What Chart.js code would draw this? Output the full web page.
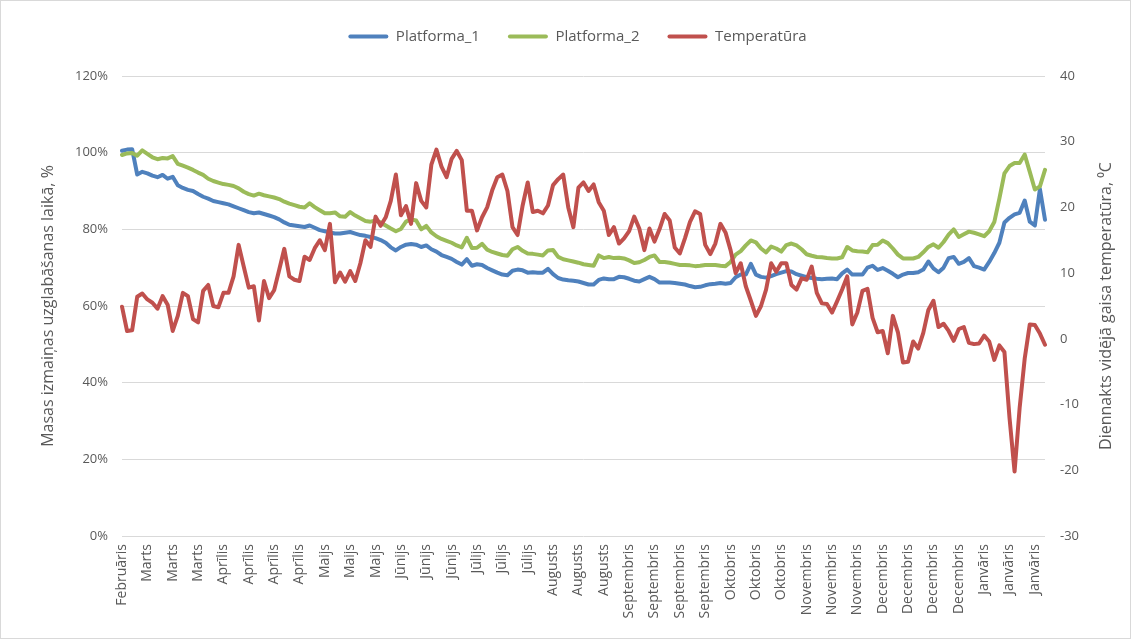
<!DOCTYPE html>
<html>
<head>
<meta charset="utf-8">
<title>Masas izmaiņas</title>
<script src="https://cdn.jsdelivr.net/npm/chart.js@4.4.1/dist/chart.umd.min.js"></script>
<style>
    html, body { margin: 0; padding: 0; background: #fff; }
    #wrap { width: 1131px; height: 639px; box-sizing: border-box; border: 1px solid #d9d9d9; }
    canvas { display: block; }
</style>
</head>
<body>
<div id="wrap"><canvas id="massChart" width="1129" height="637"></canvas></div>
<script>
// tick labels, one every 5 points
const monthTicks = ['Februāris', 'Marts', 'Marts', 'Marts', 'Aprīlis', 'Aprīlis', 'Aprīlis', 'Aprīlis',
    'Maijs', 'Maijs', 'Maijs', 'Jūnijs', 'Jūnijs', 'Jūnijs', 'Jūlijs', 'Jūlijs', 'Jūlijs',
    'Augusts', 'Augusts', 'Augusts', 'Septembris', 'Septembris', 'Septembris', 'Septembris',
    'Oktobris', 'Oktobris', 'Oktobris', 'Novembris', 'Novembris', 'Novembris',
    'Decembris', 'Decembris', 'Decembris', 'Decembris', 'Janvāris', 'Janvāris', 'Janvāris'];
const tickEvery = 5;

// mass change, % (left axis)
const platforma1 = [
    100.5, 100.8, 100.9, 94.3, 95.0, 94.6, 94.0, 93.6, 94.2, 93.2,
    93.7, 91.5, 90.8, 90.3, 90.0, 89.2, 88.5, 88.0, 87.4, 87.1,
    86.8, 86.5, 86.0, 85.5, 85.0, 84.5, 84.2, 84.4, 84.0, 83.6,
    83.2, 82.6, 81.8, 81.2, 81.0, 80.8, 80.6, 81.0, 80.4, 79.8,
    79.5, 79.2, 78.9, 78.9, 79.1, 79.3, 78.9, 78.5, 78.3, 78.0,
    77.7, 77.2, 76.5, 75.3, 74.5, 75.4, 76.0, 76.2, 76.0, 75.4,
    75.8, 74.8, 74.2, 73.3, 72.8, 72.3, 71.5, 70.8, 72.2, 70.5,
    70.9, 70.7, 69.9, 69.3, 68.7, 68.2, 68.0, 69.2, 69.5, 69.3,
    68.7, 68.8, 68.7, 68.7, 69.7, 68.3, 67.3, 66.9, 66.7, 66.6,
    66.4, 66.0, 65.6, 65.6, 66.8, 67.2, 67.0, 67.0, 67.6, 67.5,
    67.1, 66.6, 66.4, 67.0, 67.6, 67.0, 66.1, 66.1, 66.1, 66.0,
    65.8, 65.6, 65.2, 64.9, 65.0, 65.4, 65.7, 65.8, 66.0, 65.8,
    66.0, 67.5, 68.2, 68.2, 71.0, 68.2, 67.6, 67.4, 67.8, 68.3,
    68.7, 69.1, 69.0, 68.3, 67.9, 67.5, 67.3, 67.1, 67.0, 67.1,
    67.2, 67.0, 68.5, 69.5, 68.2, 68.2, 68.2, 70.0, 70.5, 69.4,
    69.9, 69.2, 68.4, 67.5, 68.2, 68.6, 68.6, 68.8, 69.5, 71.6,
    69.8, 68.8, 70.0, 72.5, 72.8, 71.0, 71.5, 72.5, 70.4, 70.0,
    69.5, 71.5, 73.8, 76.5, 81.8, 83.0, 83.9, 84.3, 87.5, 82.0,
    81.0, 90.5, 82.5
];
const platforma2 = [
    99.4, 99.8, 99.9, 99.2, 100.6, 99.7, 98.8, 98.3, 98.6, 98.5,
    99.1, 97.1, 96.6, 96.1, 95.5, 94.8, 94.2, 93.2, 92.6, 92.2,
    91.8, 91.6, 91.3, 90.7, 89.8, 89.2, 88.8, 89.3, 88.9, 88.6,
    88.3, 87.9, 87.2, 86.7, 86.3, 85.9, 85.7, 86.8, 85.8, 85.0,
    84.2, 84.2, 84.4, 83.4, 83.3, 84.5, 83.6, 82.9, 82.2, 82.0,
    82.3, 81.8, 81.0, 80.2, 79.5, 80.1, 82.0, 82.6, 82.3, 80.0,
    80.9, 79.2, 78.2, 77.5, 77.0, 76.5, 75.8, 75.3, 77.8, 75.1,
    75.2, 76.2, 74.7, 74.1, 73.7, 73.3, 73.1, 74.8, 75.4, 74.4,
    73.7, 73.6, 73.4, 73.2, 74.5, 74.6, 72.8, 72.2, 71.9, 71.6,
    71.3, 70.9, 70.7, 70.5, 73.2, 72.5, 72.8, 72.5, 72.6, 72.4,
    71.9, 71.2, 71.4, 72.0, 72.8, 73.2, 71.5, 71.5, 71.3, 71.0,
    70.7, 70.7, 70.6, 70.4, 70.5, 70.7, 70.7, 70.7, 70.5, 70.4,
    71.5, 73.4, 74.3, 75.8, 77.1, 76.6, 75.0, 74.0, 75.5, 75.0,
    74.2, 75.9, 76.3, 75.8, 74.8, 73.5, 73.1, 72.8, 72.7, 72.5,
    72.4, 72.4, 72.7, 75.4, 74.5, 74.3, 74.2, 74.0, 75.9, 76.0,
    77.1, 76.4, 75.0, 73.4, 72.4, 72.4, 72.4, 72.8, 74.0, 75.4,
    76.1, 75.2, 76.7, 78.6, 80.0, 78.0, 78.7, 79.4, 79.1, 78.7,
    78.2, 79.5, 81.9, 88.0, 94.6, 96.5, 97.3, 97.3, 99.5, 95.0,
    90.4, 91.2, 95.5
];
// daily mean air temperature, degC (right axis)
const temperatura = [
    4.9, 1.2, 1.3, 6.4, 6.9, 6.0, 5.5, 4.6, 6.5, 5.2,
    1.2, 3.5, 7.0, 6.5, 3.0, 2.5, 7.3, 8.2, 5.0, 4.8,
    7.0, 7.0, 9.5, 14.3, 11.0, 7.8, 8.0, 2.8, 8.8, 6.2,
    7.4, 10.5, 13.7, 9.5, 9.0, 8.8, 12.5, 12.0, 13.8, 15.0,
    13.5, 17.5, 8.6, 10.1, 8.7, 10.3, 8.8, 11.5, 15.0, 14.0,
    18.6, 17.2, 18.5, 21.0, 25.0, 18.8, 20.2, 17.5, 23.7, 21.0,
    20.0, 26.5, 28.8, 26.2, 24.6, 27.4, 28.6, 27.2, 19.5, 19.5,
    16.5, 18.5, 20.0, 22.6, 24.6, 25.0, 22.5, 17.0, 15.8, 20.3,
    23.8, 19.3, 19.5, 19.1, 20.3, 23.4, 24.3, 25.0, 20.0, 17.0,
    23.0, 23.8, 22.5, 23.5, 20.8, 19.5, 15.8, 17.0, 14.5, 15.3,
    16.4, 18.6, 16.8, 13.5, 16.8, 14.8, 16.7, 19.0, 18.0, 13.9,
    13.0, 15.3, 17.8, 19.4, 19.0, 14.3, 12.9, 14.5, 17.5, 16.2,
    13.5, 10.0, 11.5, 8.0, 5.8, 3.5, 5.0, 7.5, 11.5, 10.2,
    11.5, 11.5, 8.2, 7.5, 9.2, 9.0, 11.0, 7.0, 5.4, 5.3,
    4.0, 5.7, 7.5, 9.5, 2.2, 4.0, 7.3, 7.6, 3.2, 1.0,
    1.2, -2.2, 3.5, 1.0, -3.6, -3.5, -0.4, -1.5, 0.9, 4.4,
    5.8, 1.8, 2.3, 1.2, -0.3, 1.5, 1.8, -0.6, -0.8, -0.7,
    0.5, -0.4, -3.2, -1.0, -2.0, -12.0, -20.2, -10.5, -3.0, 2.2,
    2.1, 0.8, -0.9
];

const textColor = '#595959';
const fontFamily = '"Open Sans", "Noto Sans", sans-serif';
const leftTitle = 'Masas izmaiņas uzglabāšanas laikā, %';
const rightTitle = 'Diennakts vidējā gaisa temperatūra, ⁰C';

const labels = platforma1.map((_, i) => monthTicks[Math.min(Math.floor(i / tickEvery), monthTicks.length - 1)]);

// fixed legend band height so the plot starts where the original does
const legendHeight = {
    id: 'legendHeight',
    beforeInit(chart) {
        const fit = chart.legend.fit;
        chart.legend.fit = function () {
            fit.call(this);
            this.height = 75;
        };
    }
};

// right axis title reads bottom-to-top like the left one
const rightTitlePlugin = {
    id: 'rightTitle',
    afterDraw(chart) {
        const s = chart.scales.y1;
        const ctx = chart.ctx;
        ctx.save();
        ctx.font = '16px ' + fontFamily;
        ctx.fillStyle = textColor;
        ctx.textAlign = 'center';
        ctx.textBaseline = 'middle';
        ctx.translate(s.right - 13.6, (chart.chartArea.top + chart.chartArea.bottom) / 2);
        ctx.rotate(-Math.PI / 2);
        ctx.fillText(rightTitle, 0, 0);
        ctx.restore();
    }
};

function line(label, data, color, axis, order) {
    return {
        label: label,
        data: data,
        yAxisID: axis,
        order: order,
        borderColor: color,
        backgroundColor: color,
        borderWidth: 4,
        pointRadius: 0,
        tension: 0,
        borderJoinStyle: 'round',
        borderCapStyle: 'round'
    };
}

var ctx = document.getElementById('massChart').getContext('2d');
var massChart = new Chart(ctx, {
    type: 'line',
    data: {
        labels: labels,
        datasets: [
            line('Platforma_1', platforma1, '#4F81BD', 'y', 3),
            line('Platforma_2', platforma2, '#9BBB59', 'y', 2),
            line('Temperatūra', temperatura, '#C0504D', 'y1', 1)
        ]
    },
    options: {
        responsive: false,
        animation: false,
        layout: { padding: { left: 34, right: 10, top: 0, bottom: 0 } },
        plugins: {
            tooltip: { enabled: false },
            legend: {
                position: 'top',
                labels: {
                    boxWidth: 40,
                    boxHeight: 4,
                    padding: 28,
                    color: textColor,
                    font: { family: fontFamily, size: 15 },
                    generateLabels(chart) {
                        const items = Chart.defaults.plugins.legend.labels.generateLabels(chart);
                        items.sort((a, b) => a.datasetIndex - b.datasetIndex);
                        return items.map(it => Object.assign(it, { lineWidth: 0, borderRadius: 2 }));
                    }
                }
            }
        },
        scales: {
            x: {
                grid: { display: false, drawTicks: false },
                border: { display: false },
                ticks: {
                    autoSkip: false,
                    minRotation: 90,
                    maxRotation: 90,
                    padding: 8,
                    color: textColor,
                    font: { family: fontFamily, size: 14 },
                    callback: function (v, i) {
                        return i % tickEvery === 0 ? this.getLabelForValue(v) : null;
                    }
                },
                afterFit(scale) { scale.height = 102; }
            },
            y: {
                position: 'left',
                min: 0,
                max: 120,
                grid: { color: '#d9d9d9', lineWidth: 1, drawTicks: false },
                border: { display: false },
                ticks: {
                    stepSize: 20,
                    padding: 14,
                    color: textColor,
                    font: { family: fontFamily, size: 13 },
                    callback: v => v + '%'
                },
                title: {
                    display: true,
                    text: leftTitle,
                    color: textColor,
                    padding: 4,
                    font: { family: fontFamily, size: 16 }
                },
                afterFit(scale) { scale.width = 87; }
            },
            y1: {
                position: 'right',
                min: -30,
                max: 40,
                grid: { display: false, drawTicks: false },
                border: { display: false },
                ticks: {
                    stepSize: 10,
                    padding: 15,
                    color: textColor,
                    font: { family: fontFamily, size: 13 }
                },
                afterFit(scale) { scale.width = 75; }
            }
        }
    },
    plugins: [legendHeight, rightTitlePlugin]
});
</script>
</body>
</html>
